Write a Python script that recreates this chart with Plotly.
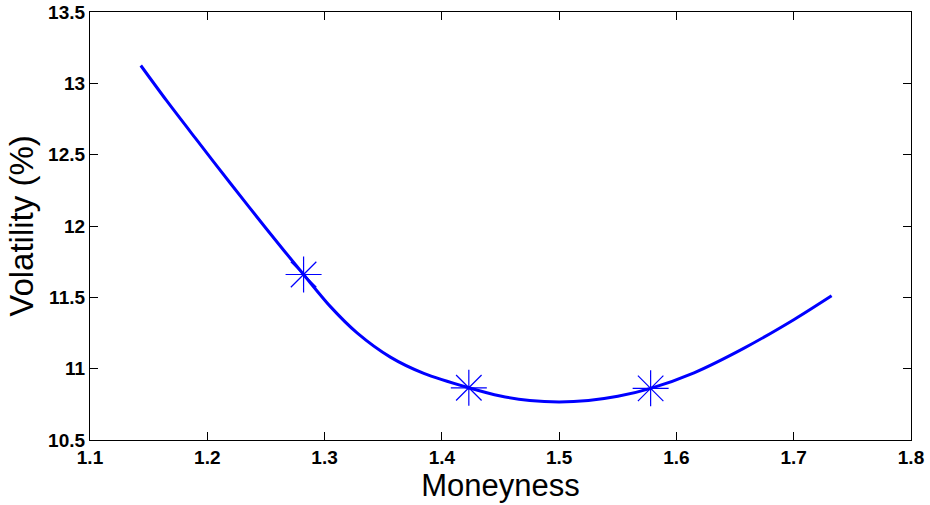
import plotly.graph_objects as go

# Fitted volatility smile (moneyness vs implied volatility, %)
moneyness = [1.1433, 1.165, 1.19, 1.22, 1.25, 1.2821, 1.305, 1.3277, 1.3561,
             1.3846, 1.423, 1.45, 1.475, 1.50, 1.525, 1.55, 1.578, 1.615,
             1.6577, 1.7004, 1.7323]
volatility = [13.125, 12.882, 12.614, 12.296, 11.984, 11.660, 11.435, 11.251,
              11.081, 10.967, 10.866, 10.808, 10.777, 10.767, 10.777, 10.806,
              10.862, 10.971, 11.144, 11.345, 11.511]

# Quoted market points
quote_x = [1.2821, 1.4230, 1.5780]
quote_y = [11.660, 10.866, 10.862]

x_ticks = [1.1, 1.2, 1.3, 1.4, 1.5, 1.6, 1.7, 1.8]
y_ticks = [10.5, 11, 11.5, 12, 12.5, 13, 13.5]

fig = go.Figure()
fig.add_trace(go.Scatter(
    x=moneyness, y=volatility, mode="lines",
    line=dict(color="#0000FF", width=3, shape="spline", smoothing=0.8),
    showlegend=False,
))
fig.add_trace(go.Scatter(
    x=quote_x, y=quote_y, mode="markers",
    marker=dict(symbol="asterisk-open", size=30, color="#0000FF",
                line=dict(color="#0000FF", width=1.2)),
    showlegend=False,
))

axis_common = dict(
    showline=True, linecolor="black", linewidth=1.3, mirror="ticks",
    ticks="inside", ticklen=8, tickcolor="black", tickwidth=1,
    showgrid=False, zeroline=False, automargin=False,
    tickfont=dict(family="Liberation Sans", size=19, color="black"),
)

fig.update_xaxes(range=[1.1, 1.8], tickvals=x_ticks,
                 ticktext=[f"<b>{v:g}</b>" for v in x_ticks],
                 title=dict(text="Moneyness", standoff=6,
                            font=dict(family="Liberation Sans", size=31, color="black")),
                 **axis_common)
fig.update_yaxes(range=[10.5, 13.5], tickvals=y_ticks,
                 ticktext=[f"<b>{v:g}</b>" for v in y_ticks],
                 title=dict(text="Volatility (%)", standoff=4,
                            font=dict(family="Liberation Sans", size=33, color="black")),
                 **axis_common)

fig.update_layout(
    width=930, height=505,
    margin=dict(l=90, r=19, t=12, b=65),
    plot_bgcolor="white", paper_bgcolor="white",
)

fig.write_html("out.html")
